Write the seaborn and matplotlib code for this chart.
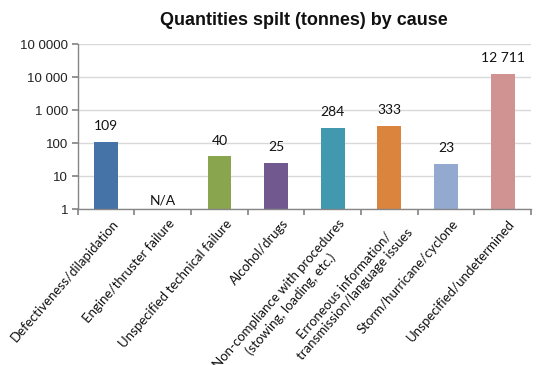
import numpy as np
import pandas as pd
import matplotlib
matplotlib.use("Agg")
import matplotlib.pyplot as plt
import seaborn as sns

categories = [
    "Defectiveness/dilapidation",
    "Engine/thruster failure",
    "Unspecified technical failure",
    "Alcohol/drugs",
    "Non-compliance with procedures\n(stowing, loading, etc.)",
    "Erroneous information/\ntransmission/language issues",
    "Storm/hurricane/cyclone",
    "Unspecified/undetermined",
]
tonnes = [109, np.nan, 40, 25, 284, 333, 23, 12711]
value_labels = ["109", "N/A", "40", "25", "284", "333", "23", "12 711"]
colors = ["#4572A7", "#AA4643", "#89A54E", "#71588F",
          "#4198AF", "#DB843D", "#93A9CF", "#D19392"]
y_ticks = [1, 10, 100, 1000, 10000, 100000]
y_tick_labels = ["1", "10", "100", "1 000", "10 000", "10 0000"]

sns.set_theme(style="white")
plt.rcParams["font.family"] = ["Liberation Sans", "DejaVu Sans"]

df = pd.DataFrame({"cause": categories, "tonnes": tonnes})

fig = plt.figure(figsize=(5.48, 3.65), dpi=100)
ax = fig.add_axes([0.142, 0.427, 0.827, 0.452])

sns.barplot(data=df, x="cause", y="tonnes", hue="cause", order=categories,
            hue_order=categories, palette=dict(zip(categories, colors)),
            legend=False, width=0.42, saturation=1, ax=ax, linewidth=0)

ax.set_yscale("log")
ax.set_ylim(1, 100000)
ax.set_xlim(-0.5, len(categories) - 0.5)
ax.set_yticks(y_ticks)
ax.set_yticklabels(y_tick_labels, fontsize=9.5, color="#222222")
ax.yaxis.set_minor_locator(matplotlib.ticker.NullLocator())
ax.grid(axis="y", color="#d9d9d9", linewidth=1)
ax.set_axisbelow(True)

for side in ["top", "right"]:
    ax.spines[side].set_visible(False)
for side in ["left", "bottom"]:
    ax.spines[side].set_color("#868686")
    ax.spines[side].set_linewidth(1)

# category ticks sit at the boundaries between bars
ax.set_xticks(np.arange(len(categories) + 1) - 0.5)
ax.set_xticklabels([])
ax.tick_params(axis="x", direction="out", length=4, color="#868686",
               bottom=True)
ax.tick_params(axis="y", direction="out", length=4, color="#868686", left=True,
               pad=3)

for i, lab in enumerate(categories):
    ax.annotate(lab, xy=(i, 1), xytext=(4, -6), textcoords="offset points",
                rotation=49, ha="right", va="top", rotation_mode="anchor",
                fontsize=9.5, family=["Lato", "DejaVu Sans"], color="#111111",
                multialignment="center")

for i, (v, lab) in enumerate(zip(tonnes, value_labels)):
    missing = np.isnan(v)
    ax.annotate(lab, xy=(i, 1 if missing else v),
                xytext=(0, 2 if missing else 7), textcoords="offset points",
                ha="center", va="bottom", fontsize=10,
                family=["Lato", "DejaVu Sans"], color="#111111")

ax.set_xlabel("")
ax.set_ylabel("")
fig.text(0.555, 0.945, "Quantities spilt (tonnes) by cause", ha="center",
         va="center", fontsize=13, fontweight="bold", color="#111111")

fig.savefig("out.png", dpi=100)
